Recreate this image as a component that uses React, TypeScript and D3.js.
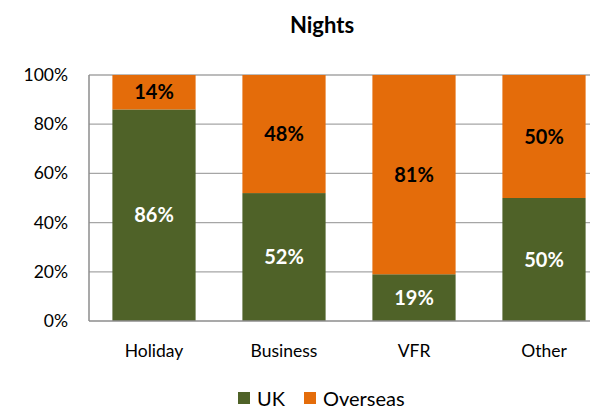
import React, { useEffect, useRef } from "react";
import * as d3 from "d3";

const categories = ["Holiday", "Business", "VFR", "Other"];
const ukValues = [86, 52, 19, 50];
const overseasValues = [14, 48, 81, 50];
const seriesNames = ["UK", "Overseas"];
const colors = ["#4F6228", "#E46C0A"];
const tickValues = [0, 20, 40, 60, 80, 100];

const W = 590, H = 409;
const FONT = "Lato, 'Open Sans', sans-serif";

export default function App() {
  const ref = useRef<SVGSVGElement>(null);

  useEffect(() => {
    const svg = d3.select(ref.current);
    svg.selectAll("*").remove();

    const left = 89, right = 609, top = 75, bottom = 321;

    const x = d3.scaleBand().domain(categories).range([left, right]).paddingInner(0.36).paddingOuter(0.18);
    const y = d3.scaleLinear().domain([0, 100]).range([bottom, top]);

    // title
    svg.append("text")
      .attr("x", 322).attr("y", 33)
      .attr("text-anchor", "middle")
      .style("font-family", FONT).style("font-size", "22px").style("font-weight", "bold")
      .text("Nights");

    // gridlines
    svg.append("g").selectAll("line").data(tickValues.slice(1)).join("line")
      .attr("x1", left).attr("x2", right)
      .attr("y1", d => y(d)).attr("y2", d => y(d))
      .attr("stroke", "#a6a6a6").attr("stroke-width", 1.3);

    // stacked bars
    const rows = categories.map((c, i) => ({ cat: c, UK: ukValues[i], Overseas: overseasValues[i] }));
    const stack = d3.stack<any>().keys(seriesNames)(rows);

    stack.forEach((layer, si) => {
      const g = svg.append("g");
      g.selectAll("rect").data(layer).join("rect")
        .attr("x", d => x(d.data.cat)!)
        .attr("width", x.bandwidth())
        .attr("y", d => y(d[1]))
        .attr("height", d => y(d[0]) - y(d[1]))
        .attr("fill", colors[si]);
      g.selectAll("text").data(layer).join("text")
        .attr("x", d => x(d.data.cat)! + x.bandwidth() / 2)
        .attr("y", d => (y(d[0]) + y(d[1])) / 2 + 7)
        .attr("text-anchor", "middle")
        .style("font-family", FONT).style("font-size", "20px").style("font-weight", "bold")
        .attr("fill", si === 0 ? "#ffffff" : "#000000")
        .text(d => `${d[1] - d[0]}%`);
    });

    // axes lines
    svg.append("line").attr("x1", left).attr("x2", left).attr("y1", top).attr("y2", bottom)
      .attr("stroke", "#8c8c8c").attr("stroke-width", 1.5);
    svg.append("line").attr("x1", left).attr("x2", right).attr("y1", bottom).attr("y2", bottom)
      .attr("stroke", "#8c8c8c").attr("stroke-width", 1.5);

    // y tick labels
    svg.append("g").selectAll("text").data(tickValues).join("text")
      .attr("x", 68).attr("y", d => y(d) + 6)
      .attr("text-anchor", "end")
      .style("font-family", FONT).style("font-size", "17.5px")
      .text(d => `${d}%`);

    // category labels
    svg.append("g").selectAll("text").data(categories).join("text")
      .attr("x", d => x(d)! + x.bandwidth() / 2).attr("y", 357)
      .attr("text-anchor", "middle")
      .style("font-family", FONT).style("font-size", "17.5px")
      .text(d => d);

    // legend
    const leg = svg.append("g");
    const legX = [238, 304];
    seriesNames.forEach((s, i) => {
      leg.append("rect").attr("x", legX[i]).attr("y", 392).attr("width", 12).attr("height", 12).attr("fill", colors[i]);
      leg.append("text").attr("x", legX[i] + 19).attr("y", 406)
        .style("font-family", FONT).style("font-size", "20px")
        .text(s);
    });
  }, []);

  return <svg ref={ref} width={W} height={H} style={{ position: "absolute", left: 0, top: 0 }} />;
}
